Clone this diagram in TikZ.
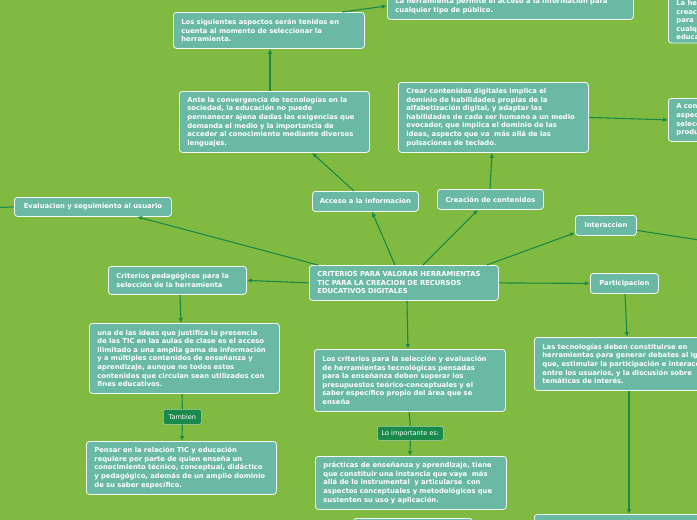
\documentclass[tikz,border=0pt]{standalone}
\usepackage{fontspec}
\usetikzlibrary{arrows.meta}
\newfontfamily\mapfont{DejaVu Sans}
\definecolor{mapbg}{HTML}{80BA41}
\definecolor{topicfill}{HTML}{6AB9A5}
\definecolor{linkgreen}{HTML}{1C8A47}
\definecolor{tagfill}{HTML}{1A8A4C}

\begin{document}
\begin{tikzpicture}[x=1pt,y=-1pt,
  topic/.style={draw=white!92!topicfill,fill=topicfill,line width=0.8pt,rounded corners=3pt,text=white,
    font=\mapfont\bfseries\fontsize{6.8}{8.6}\selectfont,align=left,inner xsep=8pt,inner ysep=3pt,anchor=north west},
  short/.style={topic,align=center,inner xsep=2pt},
  tag/.style={draw=white!60!tagfill,fill=tagfill,line width=0.6pt,rounded corners=2pt,text=white,
    font=\mapfont\fontsize{6.5}{7.5}\selectfont,inner xsep=3pt,inner ysep=2pt,anchor=north west},
  link/.style={-{Latex[length=5pt,width=4.5pt]},linkgreen,line width=1.1pt},
  plain/.style={linkgreen,line width=1.1pt}]
\useasboundingbox (0,0) rectangle (697,520);
\fill[mapbg] (0,0) rectangle (697,520);
\clip (0,0) rectangle (697,520);

\node[topic,text width=230pt,minimum height=27pt] (acc1) at (387,-8) {La herramienta permite el acceso a la información para\\cualquier tipo de público.};
\node[topic,text width=104pt,minimum height=44pt] (cre1) at (668,-3) {La herramienta permite la\\creación de contenidos para\\cualquier nivel\\educativo.};
\node[topic,text width=104pt,minimum height=43pt] (cre2) at (668,98) {A considerar los\\aspectos para la\\selección de la\\producción.};
\node[topic,text width=175pt,minimum height=36pt] (sig) at (173,12) {Los siguientes aspectos serán tenidos en\\cuenta al momento de seleccionar la\\herramienta.};
\node[topic,text width=174pt,minimum height=61pt] (ante) at (179,91) {Ante la convergencia de tecnologías en la\\sociedad, la educación no puede\\permanecer ajena dadas las exigencias que\\demanda el medio y la importancia de\\acceder al conocimiento mediante diversos\\lenguajes.};
\node[topic,text width=174pt,minimum height=70pt] (crear) at (398,82) {Crear contenidos digitales implica el\\dominio de habilidades propias de la\\alfabetización digital, y adaptar las\\habilidades de cada ser humano a un medio\\evocador, que implica el dominio de las\\ideas, aspecto que va\ \ más allá de las\\pulsaciones de teclado.};
\node[short,minimum width=157pt,minimum height=19pt] (eva) at (14,197) {Evaluacion y seguimiento al usuario};
\node[short,minimum width=106pt,minimum height=20pt] (acc) at (312,191) {Acceso a la informacion};
\node[short,minimum width=106pt,minimum height=20pt] (cre) at (437,189) {Creación de contenidos};
\node[topic,text width=173pt,minimum height=35pt] (cen) at (309,265) {CRITERIOS PARA VALORAR HERRAMIENTAS\\TIC PARA LA CREACION DE RECURSOS\\EDUCATIVOS DIGITALES};
\node[short,minimum width=61pt,minimum height=20pt] (int) at (575,215) {Interaccion};
\node[short,minimum width=68pt,minimum height=20pt] (par) at (590,273) {Participacion};
\node[topic,text width=184pt,minimum height=53pt] (tec) at (534,337) {Las tecnologías deben constituirse en\\herramientas para generar debates al igual\\que, estimular la participación e interacción\\entre los usuarios, y la discusión sobre\\temáticas de interés.};
\node[topic,text width=184pt,minimum height=30pt] (tec2) at (534,514) {};
\node[topic,text width=122pt,minimum height=28pt] (cri) at (108,266) {Criterios pedagógicos para la\\selección de la herramienta};
\node[topic,text width=174pt,minimum height=70pt] (una) at (89,323) {una de las ideas que justifica la presencia\\de las TIC en las aulas de clase es el acceso\\ilimitado a una amplia gama de información\\y a múltiples contenidos de enseñanza y\\aprendizaje, aunque no todos estos\\contenidos que circulan sean utilizados con\\fines educativos.};
\node[tag,minimum width=38pt,minimum height=15pt] (tam) at (163,409) {Tambien};
\node[topic,text width=174pt,minimum height=53pt] (pen) at (86,441) {Pensar en la relación TIC y educación\\requiere por parte de quien enseña un\\conocimiento técnico, conceptual, didáctico\\y pedagógico, además de un amplio dominio\\de su saber específico.};
\node[topic,text width=175pt,minimum height=62pt] (los) at (314,349) {Los criterios para la selección y evaluación\\de herramientas tecnológicas pensadas\\para la enseñanza deben superar los\\presupuestos teórico-conceptuales y el\\saber específico propio del área que se\\enseña};
\node[tag,minimum width=66pt,minimum height=14pt] (imp) at (377,426) {Lo importante es:};
\node[topic,text width=175pt,minimum height=53pt] (pra) at (315,456) {prácticas de enseñanza y aprendizaje, tiene\\que constituir una instancia que vaya\ \ más\\allá de lo instrumental\ \ y articularse\ \ con\\aspectos conceptuales y metodológicos que\\sustenten su uso y aplicación.};
\node[topic,text width=103pt,minimum height=30pt] (pra2) at (353,518) {};
\coordinate (offl) at (-12,208);
\coordinate (offr) at (712,242);

\draw[link] ([xshift=169pt]sig.north west) -- (acc1.west);
\draw[link] ([xshift=91pt]ante.north west) -- ([xshift=97pt]sig.south west);
\draw[link] ([xshift=42pt]acc.north west) -- ([xshift=133pt]ante.south west);
\draw[link] ([xshift=53pt]cre.north west) -- ([xshift=94pt]crear.south west);
\draw[link] (crear.east) -- (cre2.west);
\draw[link] ([xshift=9pt]cen.north west) -- ([xshift=123pt]eva.south west);
\draw[link] (eva.west) -- (offl);
\draw[link] ([xshift=86pt]cen.north west) -- ([xshift=60pt]acc.south west);
\draw[link] ([xshift=114pt]cen.north west) -- ([xshift=41pt]cre.south west);
\draw[link] ([xshift=-12pt]cen.north east) -- ([yshift=3pt]int.south west);
\draw[link] ([yshift=-5pt]int.east) -- (offr);
\draw[link] (cen.east) -- (par.west);
\draw[link] ([xshift=35pt]par.south west) -- ([xshift=93pt]tec.north west);
\draw[link] ([xshift=95pt]tec.south west) -- ([xshift=95pt]tec2.north west);
\draw[link] (cen.west) -- (cri.east);
\draw[link] ([xshift=72pt]cri.south west) -- ([xshift=92pt]una.north west);
\draw[plain] ([xshift=93pt]una.south west) -- (tam.north);
\draw[link] (tam.south) -- ([xshift=96pt]pen.north west);
\draw[link] ([xshift=98pt]cen.south west) -- ([xshift=94pt]los.north west);
\draw[plain] ([xshift=95pt]los.south west) -- (imp.north);
\draw[link] (imp.south) -- ([xshift=95pt]pra.north west);
\end{tikzpicture}
\end{document}
